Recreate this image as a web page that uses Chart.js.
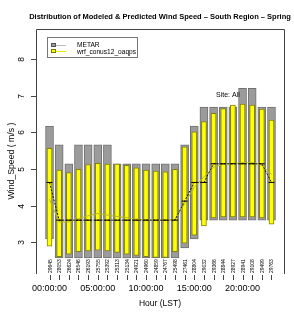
<!DOCTYPE html>
<html>
<head>
<meta charset="utf-8">
<script src="https://cdn.jsdelivr.net/npm/chart.js@4/dist/chart.umd.min.js"></script>
<style>
  body { margin: 0; background: #fff; }
  canvas { display: block; }
</style>
</head>
<body>
<canvas id="windChart" width="294" height="312"></canvas>
<script>
// hours of the day (LST)
const hours = [0,1,2,3,4,5,6,7,8,9,10,11,12,13,14,15,16,17,18,19,20,21,22,23];
const tickHours = [0, 5, 10, 15, 20];
const tickLabels = ['00:00:00', '05:00:00', '10:00:00', '15:00:00', '20:00:00'];
const yTicks = [3, 4, 5, 6, 7, 8];

// number of obs per hour
const counts = ['29645','28053','26624','26546','26193','25755','25392','25313','25134','24921','24960','24859',
                '24767','25498','27461','28804','29032','29366','28844','28927','28941','29108','29499','29763'];

// METAR quartiles (m/s)
const metarLow  = [3.09,2.57,2.57,2.57,2.57,2.57,2.57,2.57,2.57,2.57,2.57,2.57,2.57,2.57,2.84,3.09,3.60,3.60,3.60,3.60,3.60,3.60,3.60,3.60];
const metarMed  = [4.63,3.60,3.60,3.60,3.60,3.60,3.60,3.60,3.60,3.60,3.60,3.60,3.60,3.60,4.12,4.63,4.63,5.14,5.14,5.14,5.14,5.14,5.14,4.63];
const metarHigh = [6.17,5.66,5.14,5.66,5.66,5.66,5.66,5.14,5.14,5.14,5.14,5.14,5.14,5.14,5.66,6.17,6.69,6.69,6.69,6.69,7.20,7.20,6.69,6.69];

// wrf_conus12_oaqps quartiles (m/s)
const modelLow  = [2.89,2.60,2.67,2.74,2.76,2.78,2.76,2.72,2.67,2.64,2.60,2.58,2.58,2.74,2.97,3.19,3.44,3.66,3.69,3.69,3.69,3.69,3.66,3.49];
const modelMed  = [4.17,3.55,3.55,3.64,3.72,3.78,3.74,3.70,3.67,3.63,3.61,3.60,3.60,3.62,4.05,4.50,4.78,5.05,5.12,5.15,5.17,5.17,5.10,4.85];
const modelHigh = [5.56,4.97,4.90,4.99,5.12,5.15,5.13,5.13,5.10,5.03,4.97,4.94,4.92,4.99,5.60,6.01,6.29,6.52,6.65,6.74,6.77,6.74,6.63,6.33];

const FONT = '"Liberation Sans", Arial, Helvetica, sans-serif';

// all the R style decorations: box, axes, labels, legend
const decorations = {
    id: 'decorations',
    afterDraw(chart) {
        const ctx = chart.ctx;
        const area = chart.chartArea;
        const x = chart.scales.x;
        const y = chart.scales.y;
        ctx.save();
        ctx.fillStyle = '#000';
        ctx.strokeStyle = '#444';
        ctx.lineWidth = 1;

        // plot box
        ctx.beginPath();
        ctx.moveTo(area.left + 0.5, area.bottom);
        ctx.lineTo(area.left + 0.5, area.top + 0.5);
        ctx.lineTo(area.right - 0.5, area.top + 0.5);
        ctx.lineTo(area.right - 0.5, area.bottom);
        ctx.stroke();

        // y axis ticks and rotated labels
        ctx.font = '8.5px ' + FONT;
        ctx.textAlign = 'center';
        ctx.textBaseline = 'middle';
        yTicks.forEach(v => {
            const py = Math.round(y.getPixelForValue(v)) + 0.5;
            ctx.beginPath();
            ctx.moveTo(area.left - 5, py);
            ctx.lineTo(area.left, py);
            ctx.stroke();
            ctx.save();
            ctx.translate(area.left - 14, py);
            ctx.rotate(-Math.PI / 2);
            ctx.fillText(String(v), 0, 0);
            ctx.restore();
        });

        // counts per hour + small ticks
        ctx.font = '5px ' + FONT;
        ctx.textAlign = 'left';
        hours.forEach((h, i) => {
            const px = Math.round(x.getPixelForValue(h)) + 0.5;
            ctx.save();
            ctx.translate(px, area.bottom - 1);
            ctx.rotate(-Math.PI / 2);
            ctx.fillText(counts[i], 0, 0);
            ctx.restore();
            ctx.beginPath();
            ctx.moveTo(px, area.bottom + 1);
            ctx.lineTo(px, area.bottom + 6);
            ctx.stroke();
        });

        // hour labels
        ctx.font = '9px ' + FONT;
        ctx.textAlign = 'center';
        tickHours.forEach((h, i) => {
            ctx.fillText(tickLabels[i], x.getPixelForValue(h), 289);
        });

        // axis titles
        ctx.font = '8.5px ' + FONT;
        ctx.fillText('Hour (LST)', 160, 304);
        ctx.save();
        ctx.translate(12, 161);
        ctx.rotate(-Math.PI / 2);
        ctx.font = '8.7px ' + FONT;
        ctx.fillText('Wind_Speed ( m/s )', 0, 0);
        ctx.restore();

        // title
        ctx.font = 'bold 7.5px ' + FONT;
        ctx.fillText('Distribution of Modeled & Predicted Wind Speed \u2013 South Region \u2013 Spring', 160, 17);

        // site label
        ctx.font = '7px ' + FONT;
        ctx.textAlign = 'left';
        ctx.fillText('Site: All', 216, 95);

        // legend
        ctx.strokeStyle = '#777';
        ctx.strokeRect(47.5, 37.5, 90, 20);
        ctx.font = '6.6px ' + FONT;
        ctx.fillStyle = '#999';
        ctx.fillRect(51, 43, 4, 4);
        ctx.strokeStyle = '#555';
        ctx.strokeRect(51.5, 43.5, 4, 3);
        ctx.strokeStyle = '#bbb';
        ctx.beginPath(); ctx.moveTo(56, 45.5); ctx.lineTo(66, 45.5); ctx.stroke();
        ctx.fillStyle = '#ff0';
        ctx.fillRect(51, 49, 4, 4);
        ctx.strokeStyle = '#777700';
        ctx.strokeRect(51.5, 49.5, 4, 3);
        ctx.strokeStyle = '#e6e600';
        ctx.beginPath(); ctx.moveTo(56, 51.5); ctx.lineTo(66, 51.5); ctx.stroke();
        ctx.fillStyle = '#000';
        ctx.fillText('METAR', 77, 45.5);
        ctx.fillText('wrf_conus12_oaqps', 77, 51.7);

        ctx.restore();
    }
};

const ctx = document.getElementById('windChart').getContext('2d');
new Chart(ctx, {
    type: 'bar',
    data: {
        datasets: [{
            label: 'METAR',
            data: hours.map((h, i) => ({ x: h, y: [metarLow[i], metarHigh[i]] })),
            backgroundColor: '#9b9b9b',
            borderColor: '#707070',
            borderWidth: 1,
            borderSkipped: false,
            barThickness: 8,
            grouped: false,
            order: 4
        }, {
            label: 'wrf_conus12_oaqps',
            data: hours.map((h, i) => ({ x: h, y: [modelLow[i], modelHigh[i]] })),
            backgroundColor: '#ffff00',
            borderColor: '#80800a',
            borderWidth: 1,
            borderSkipped: false,
            barThickness: 5,
            grouped: false,
            order: 3
        }, {
            type: 'line',
            label: 'METAR median',
            data: hours.map((h, i) => ({ x: h, y: metarMed[i] })),
            borderColor: '#111',
            borderWidth: 1,
            borderDash: [2, 1.5],
            pointStyle: 'line',
            pointRadius: 3,
            pointBorderColor: '#000',
            pointBorderWidth: 1,
            tension: 0,
            order: 1
        }, {
            type: 'line',
            label: 'model median',
            data: hours.map((h, i) => ({ x: h, y: modelMed[i] })),
            borderColor: '#b8b81e',
            borderWidth: 1,
            pointRadius: 0,
            tension: 0,
            order: 2
        }]
    },
    options: {
        responsive: false,
        animation: false,
        layout: { padding: { left: 36, top: 29, right: 9, bottom: 38 } },
        plugins: {
            legend: { display: false },
            title: { display: false },
            tooltip: { enabled: false }
        },
        scales: {
            x: { type: 'linear', min: -1.4, max: 24.4, offset: false, display: false },
            y: { min: 2.13, max: 8.82, display: false }
        }
    },
    plugins: [decorations]
});
</script>
</body>
</html>
